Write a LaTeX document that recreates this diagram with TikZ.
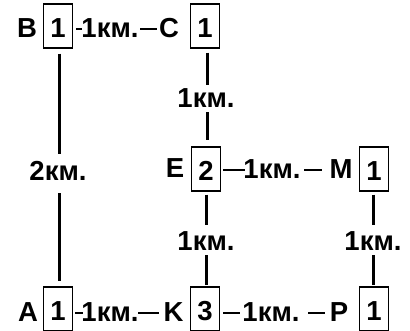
\documentclass[tikz,border=0pt]{standalone}
\usepackage{fontspec}
\setmainfont{Liberation Sans}
\usetikzlibrary{calc}
\newcommand\lowdigit[1]{\raisebox{-2pt}[\height][0pt]{#1}}
\begin{document}
\begin{tikzpicture}[x=1pt,y=-1pt,
  every node/.style={inner sep=0pt, font=\fontsize{27.5}{32}\selectfont\bfseries},
  numbox/.style={draw, line width=1.3pt, minimum width=29pt, minimum height=44pt},
  vline/.style={line width=3pt},
  hdash/.style={line width=2.8pt}]
\useasboundingbox (0,0) rectangle (410,331);
% row 1
\node (B) at (27,28) {B};
\node[numbox] (bB) at (58,26) {\lowdigit{1}};
\node (lBC) at (110,28) {1км.};
\node (C) at (169,28) {C};
\node[numbox] (bC) at (205,26) {\lowdigit{1}};
% row 2
\node (E) at (175,168) {E};
\node[numbox] (bE) at (206,169) {\lowdigit{2}};
\node (lEM) at (272,169) {1км.};
\node (M) at (341,169) {M};
\node[numbox] (bM) at (374,169) {\lowdigit{1}};
% row 3
\node (A) at (28,312) {A};
\node[numbox] (bA) at (58,309) {\lowdigit{1}};
\node (lAK) at (110,312) {1км.};
\node (K) at (173.5,312) {K};
\node[numbox] (bK) at (205,309) {\lowdigit{3}};
\node (lKP) at (271,312) {1км.};
\node (P) at (339,312) {P};
\node[numbox] (bP) at (374,309) {\lowdigit{1}};
% vertical labels
\node (lBA) at (58,171) {2км.};
\node (lCE) at (206,98) {1км.};
\node (lEK) at (206,241) {1км.};
\node (lMP) at (373,241) {1км.};
% horizontal dashes
\draw[hdash] ($(bB.east |- lBC)+(3,1)$) -- ($(bB.east |- lBC)+(9,1)$);
\draw[hdash] ($(bB.east |- lBC)+(67,1)$) -- ($(bB.east |- lBC)+(84,1)$);
\draw[hdash] ($(bE.east |- lEM)+(2,1)$) -- ($(bE.east |- lEM)+(24,1)$);
\draw[hdash] ($(bE.east |- lEM)+(83,1)$) -- ($(bE.east |- lEM)+(101,1)$);
\draw[hdash] ($(bA.east |- lAK)+(2,1)$) -- ($(bA.east |- lAK)+(10,1)$);
\draw[hdash] ($(bA.east |- lAK)+(65,1)$) -- ($(bA.east |- lAK)+(86,1)$);
\draw[hdash] ($(bK.east |- lKP)+(3,1)$) -- ($(bK.east |- lKP)+(20,1)$);
\draw[hdash] ($(bK.east |- lKP)+(88,1)$) -- ($(bK.east |- lKP)+(105,1)$);
% vertical connectors
\draw[vline] ($(bB.south)+(1,5)$) -- ($(bB.south)+(1,105)$);
\draw[vline] ($(bA.north)+(1,-93)$) -- ($(bA.north)+(1,-5)$);
\draw[vline] ($(bC.south)+(2,4)$) -- ($(bC.south)+(2,36)$);
\draw[vline] ($(bE.north)+(1,-34)$) -- ($(bE.north)+(1,-6)$);
\draw[vline] ($(bE.south)+(0,3)$) -- ($(bE.south)+(0,33)$);
\draw[vline] ($(bK.north)+(1,-31)$) -- ($(bK.north)+(1,-1)$);
\draw[vline] ($(bM.south)+(-1,3)$) -- ($(bM.south)+(-1,33)$);
\draw[vline] ($(bP.north)+(-1,-31)$) -- ($(bP.north)+(-1,-1)$);
\end{tikzpicture}
\end{document}
